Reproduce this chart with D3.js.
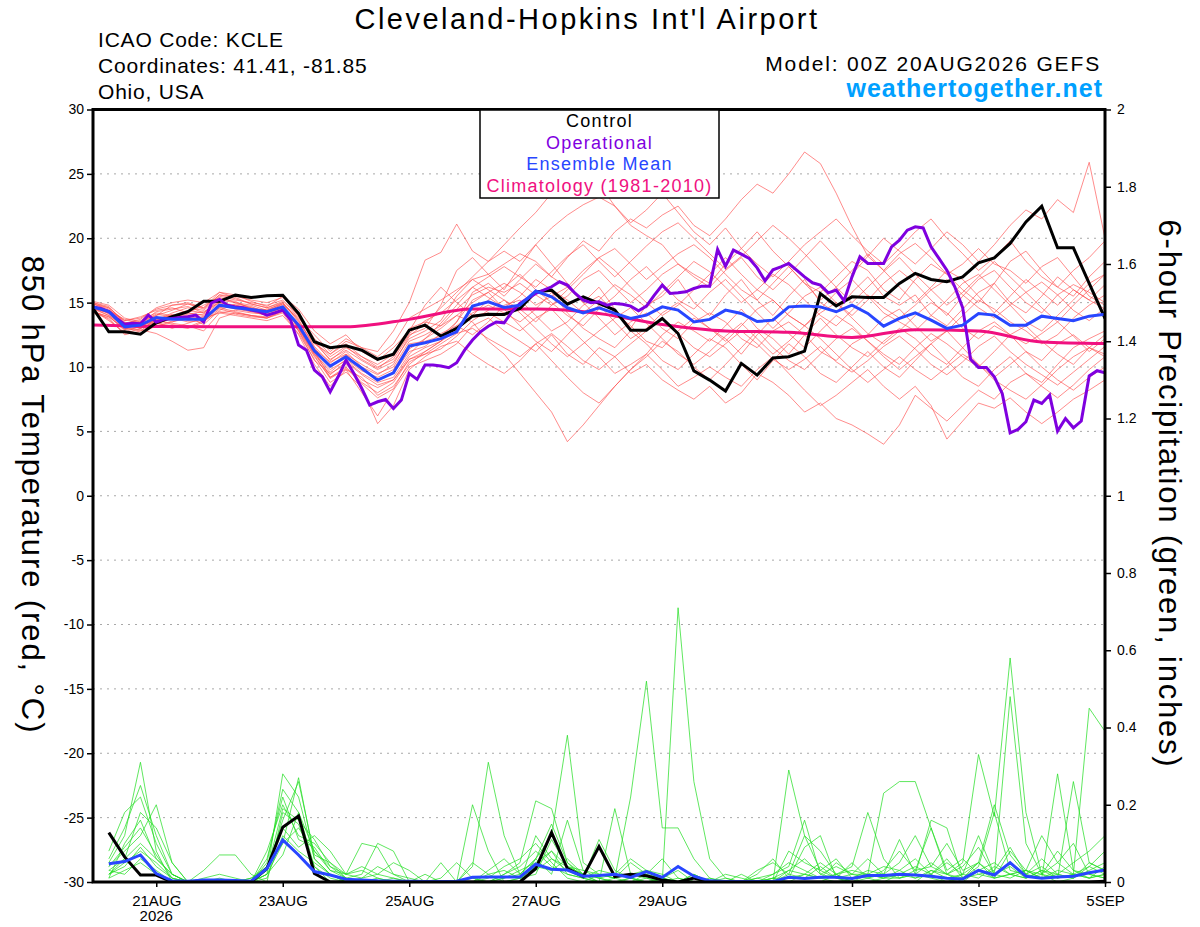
<!DOCTYPE html>
<html>
<head>
<meta charset="utf-8">
<script src="https://cdnjs.cloudflare.com/ajax/libs/d3/7.8.5/d3.min.js"></script>
<style>
  body { margin: 0; background: #fff; }
  text { font-family: "Liberation Sans", Arial, Helvetica, sans-serif; }
</style>
</head>
<body>
<div id="chart-area"></div>
<script>
// ---- data ----
var runStart = Date.UTC(2026, 7, 20, 0);   // 00Z 20AUG2026
var stepHours = 6;
var opStepHours = 3;

var tempTicks = [30, 25, 20, 15, 10, 5, 0, -5, -10, -15, -20, -25, -30];
var prcpTicks = [0, 0.2, 0.4, 0.6, 0.8, 1, 1.2, 1.4, 1.6, 1.8, 2];
var dateTicks = ["2026-08-21", "2026-08-23", "2026-08-25", "2026-08-27", "2026-08-29", "2026-09-01", "2026-09-03", "2026-09-05"];
var dateLabels = ["21AUG", "23AUG", "25AUG", "27AUG", "29AUG", "1SEP", "3SEP", "5SEP"];
var legendLabels = ["Control", "Operational", "Ensemble Mean", "Climatology (1981-2010)"];

// 850 hPa temperature, 6-hourly, 65 points
var controlTemp = [14.55, 12.73, 12.73, 12.55, 13.43, 13.9, 14.3, 15.1, 15.1, 15.58,
  15.4, 15.53, 15.58, 14.16, 11.96, 11.5, 11.65, 11.3, 10.6, 11.0,
  12.86, 13.25, 12.4, 13.0, 13.95, 14.1, 14.08, 14.55, 15.84, 15.97,
  14.88, 15.45, 14.94, 14.42, 12.86, 12.86, 13.77, 12.6, 9.7, 8.98,
  8.13, 10.28, 9.37, 10.7, 10.8, 11.23, 15.71, 14.75, 15.45, 15.4,
  15.4, 16.49, 17.27, 16.8, 16.62, 17.0, 18.09, 18.48, 19.6, 21.27,
  22.49, 19.26, 19.26, 16.49, 13.77];

var meanTemp = [14.67, 14.3, 13.12, 13.25, 13.85, 13.7, 13.7, 13.7, 14.8, 14.6,
  14.47, 14.3, 14.67, 13.25, 11.26, 10.07, 10.8, 9.9, 8.98, 9.55,
  11.62, 11.88, 12.2, 12.73, 14.73, 15.06, 14.62, 14.8, 15.9, 15.45,
  14.6, 14.2, 14.6, 14.16, 13.77, 14.03, 14.67, 14.42, 13.5, 13.7,
  14.42, 14.16, 13.53, 13.64, 14.67, 14.73, 14.67, 14.29, 14.8, 14.16,
  13.17, 13.77, 14.21, 13.64, 13.0, 13.25, 14.16, 14.03, 13.25, 13.25,
  13.95, 13.77, 13.59, 13.95, 14.1];

// operational run, 3-hourly, 129 points
var operationalTemp = [14.67, 14.55, 14.3, 13.77, 13.33, 13.4, 13.35, 14.03, 13.5, 13.7,
  13.77, 13.85, 13.9, 14.03, 13.5, 14.98, 15.25, 14.8, 14.67, 14.6,
  14.42, 14.3, 14.03, 14.2, 14.42, 13.64, 11.7, 11.31, 9.76, 9.24,
  8.07, 9.24, 10.53, 9.5, 8.33, 7.04, 7.3, 7.48, 6.78, 7.43,
  9.5, 9.04, 10.15, 10.15, 10.07, 9.94, 10.33, 11.31, 12.1, 12.73,
  13.17, 13.5, 13.43, 14.3, 14.94, 15.33, 15.71, 15.97, 16.23, 16.62,
  16.36, 15.71, 15.2, 15.0, 15.06, 14.8, 14.94, 14.88, 14.73, 14.37,
  14.73, 15.58, 16.36, 15.71, 15.76, 15.84, 16.1, 16.28, 16.28, 19.13,
  17.83, 19.08, 18.77, 18.43, 17.7, 16.7, 17.55, 17.78, 18.04, 17.52,
  17.0, 16.54, 16.36, 15.76, 15.97, 15.14, 17.0, 18.56, 18.04, 18.04,
  18.04, 19.33, 19.85, 20.63, 20.89, 20.8, 19.33, 18.43, 17.52, 16.23,
  14.6, 10.6, 9.97, 9.97, 9.24, 7.95, 4.89, 5.15, 5.75, 7.43,
  7.17, 7.82, 5.02, 6.0, 5.28, 5.8, 9.3, 9.71, 9.55];

// climatology, daily values
var climoTemp = [13.27, 13.15, 13.12, 13.12, 13.12, 13.7, 14.5, 14.5, 14.16, 13.3,
  12.8, 12.7, 12.3, 12.9, 12.8, 11.95, 11.83];

// ensemble members, 6-hourly, 65 points each
var memberTemp = [
  [15.0,14.6,13.5,13.0,13.6,14.2,14.6,14.4,15.5,15.2,15.0,14.8,15.2,
   14.0,12.0,10.5,11.5,10.8,10.0,10.6,12.5,13.0,14.8,17.5,18.5,17.2,
   16.0,17.8,19.5,18.0,16.5,15.0,16.2,14.5,13.0,14.8,15.5,16.8,15.0,
   14.0,15.6,16.8,15.2,14.0,15.5,16.8,15.0,14.2,15.8,17.0,15.5,14.8,
   15.6,14.0,13.2,14.5,15.8,16.5,15.0,14.2,15.5,17.0,16.0,15.2,16.4],
  [14.8,14.2,13.2,13.4,14.0,14.4,14.9,14.6,15.8,15.4,14.9,14.6,15.0,
   13.5,11.8,11.0,12.0,11.5,11.2,12.8,15.0,18.3,18.9,21.1,19.0,18.2,
   19.5,20.8,22.0,23.5,24.0,25.3,24.2,22.5,21.0,20.2,19.5,18.0,17.2,
   16.5,18.0,19.2,20.5,19.0,17.8,16.5,15.8,17.0,18.2,17.5,16.0,15.2,
   16.8,18.0,17.2,16.0,15.0,16.5,18.2,19.0,17.5,16.2,15.5,17.0,18.2],
  [14.5,14.0,12.8,12.6,13.2,13.5,13.8,13.9,14.6,14.8,14.4,14.0,14.3,
   12.8,10.5,9.5,10.2,9.0,8.4,9.0,10.8,11.5,12.0,13.5,15.8,16.5,
   15.5,16.8,18.0,17.0,18.5,19.8,19.0,20.5,21.5,20.8,21.8,22.5,21.0,
   20.2,21.5,23.0,24.2,23.5,25.0,26.7,25.8,23.5,20.9,18.6,17.5,18.8,
   19.6,18.5,17.2,18.0,19.2,18.0,17.5,16.5,17.8,18.5,17.0,15.5,14.8],
  [14.2,13.8,12.5,12.8,13.4,13.2,13.0,13.5,14.5,14.2,14.0,13.8,14.2,
   12.5,10.2,8.5,9.8,8.0,6.2,8.2,10.0,10.5,11.0,11.8,13.2,13.8,
   12.8,12.0,11.2,12.5,11.0,10.2,11.5,10.8,9.5,10.2,9.0,8.2,7.5,
   8.5,7.2,8.0,9.5,8.8,7.8,6.5,7.2,6.0,5.5,4.8,4.0,5.5,
   7.8,6.8,5.8,7.0,8.2,7.5,8.8,9.5,8.5,7.6,8.6,9.8,10.8],
  [14.6,14.3,13.0,12.8,13.8,14.0,14.2,14.0,15.0,14.8,14.6,14.2,14.6,
   13.0,11.0,9.8,10.5,9.5,8.8,9.2,11.0,12.2,13.0,14.0,13.5,12.0,
   11.0,9.5,8.0,6.5,4.2,5.5,7.0,8.5,9.8,11.0,12.5,13.5,12.8,
   12.0,13.2,14.5,13.0,12.2,11.0,12.5,13.8,12.5,11.5,10.8,12.0,13.0,
   12.2,11.0,10.2,11.5,12.8,13.5,12.5,11.8,12.6,13.5,12.4,11.2,12.2],
  [14.9,14.5,13.4,13.6,14.2,14.0,14.4,14.2,15.2,15.0,14.6,14.4,15.0,
   13.6,11.5,10.0,11.0,10.2,9.5,10.0,12.0,12.5,13.2,14.5,15.6,16.2,
   15.8,16.5,15.6,14.8,15.5,16.8,17.5,16.2,15.0,16.0,17.2,18.0,17.0,
   16.2,17.5,18.5,17.0,16.0,17.2,18.5,19.8,18.5,17.2,18.6,20.0,19.0,
   18.0,19.2,20.5,19.5,18.2,19.5,21.0,22.2,21.5,23.0,22.0,25.9,20.0],
  [15.1,14.8,13.8,13.5,14.0,14.8,15.0,14.6,15.6,15.5,15.2,15.0,15.4,
   14.2,12.2,11.0,11.8,10.8,10.2,11.0,13.0,13.5,13.2,14.0,15.0,15.8,
   16.5,15.8,14.8,15.5,16.2,15.0,13.8,12.5,13.5,14.2,13.0,12.2,13.5,
   14.2,13.5,12.2,11.5,12.8,13.5,12.5,11.2,10.5,11.8,12.5,13.8,14.5,
   13.2,12.0,12.8,14.0,15.2,14.5,13.5,12.8,11.8,12.5,13.8,14.8,15.6],
  [14.4,13.6,12.7,13.2,13.6,13.4,13.2,12.8,14.2,14.4,14.2,14.1,14.5,
   13.2,11.2,9.2,9.8,9.2,7.8,8.5,10.2,11.2,12.0,13.2,14.2,14.8,
   14.2,13.5,14.5,15.8,14.2,13.0,12.2,11.5,12.8,11.8,10.5,9.8,11.0,
   12.2,11.5,10.2,9.0,10.5,11.8,10.8,9.5,8.8,10.0,11.2,10.0,9.2,
   10.5,11.8,10.5,9.2,8.5,9.8,10.8,9.5,8.8,10.2,11.5,12.2,12.8],
  [14.7,14.4,13.6,13.9,14.4,14.6,14.2,14.8,15.4,15.0,14.8,14.4,14.8,
   13.8,12.5,11.2,12.2,11.5,10.8,11.8,13.8,14.5,15.2,16.0,16.8,17.2,
   18.0,18.8,18.2,17.0,16.2,17.5,18.5,19.2,18.0,16.8,17.8,18.8,19.5,
   18.5,17.2,16.0,15.2,16.5,17.8,16.5,15.2,16.2,17.5,18.8,17.5,16.2,
   15.0,16.2,17.5,16.8,15.5,14.2,15.5,16.8,15.8,14.8,16.0,15.2,14.5],
  [14.3,13.9,13.0,12.9,12.6,12.0,11.3,11.5,13.8,14.2,14.0,13.8,14.4,
   13.4,11.4,10.4,11.0,9.8,9.0,9.5,11.2,11.6,12.6,13.2,12.5,13.5,
   14.8,15.2,14.0,12.8,13.5,14.8,15.5,14.2,13.2,12.0,11.5,12.8,13.8,
   13.0,12.0,13.2,14.5,15.2,14.0,13.2,14.2,15.0,13.8,12.6,11.8,12.8,
   14.0,15.0,14.2,13.0,12.2,13.2,12.5,11.2,10.5,11.8,12.5,11.5,10.8],
  [15.0,14.7,13.4,13.7,14.6,15.0,15.2,15.0,15.8,15.6,15.1,14.7,15.5,
   14.5,12.8,11.8,12.5,11.2,10.5,11.5,12.8,14.8,16.2,15.0,14.0,15.2,
   16.2,17.2,16.0,15.0,14.0,13.2,14.5,15.5,16.8,17.8,16.5,15.2,14.5,
   15.8,16.8,15.5,14.2,13.0,14.2,15.5,16.2,15.0,14.0,15.2,16.5,17.5,
   16.5,15.2,14.0,15.5,16.8,17.5,16.2,15.0,14.2,15.6,16.4,15.8,15.0],
  [14.6,14.0,13.2,13.1,13.3,13.8,13.5,13.6,14.6,14.3,14.0,13.9,14.4,
   12.8,10.8,9.2,10.0,8.8,8.0,8.8,10.6,11.2,12.0,12.8,14.0,14.2,
   13.5,12.8,13.8,14.5,13.2,12.0,10.8,9.5,10.2,11.0,9.8,8.5,9.2,
   10.0,9.2,8.5,9.8,10.8,9.5,8.2,7.0,7.8,8.8,9.8,8.5,7.5,
   8.5,7.0,4.4,5.8,7.2,6.8,7.6,6.5,5.6,6.5,7.5,8.2,9.0],
  [14.8,14.1,12.9,13.5,14.1,13.9,14.0,14.1,15.1,14.6,14.3,14.5,14.9,
   13.9,11.9,10.6,11.3,10.5,9.8,10.4,12.2,12.8,13.6,15.5,16.8,16.0,
   15.2,14.5,13.5,14.8,16.0,17.2,18.5,17.5,16.2,15.0,14.0,14.8,16.0,
   17.2,18.5,17.2,16.0,15.2,14.0,13.2,14.5,15.8,16.8,15.5,14.2,13.5,
   12.8,14.0,15.2,16.5,17.2,16.0,14.8,13.5,12.8,14.0,15.2,16.5,17.2],
  [14.5,14.2,13.3,13.3,13.9,13.5,13.9,13.3,14.4,14.9,14.7,14.2,14.6,
   13.1,11.1,9.6,10.6,9.7,9.2,9.8,11.8,12.0,12.4,13.5,15.2,15.8,
   14.5,13.2,12.0,11.2,12.5,13.8,14.8,13.5,12.2,13.0,14.2,15.0,14.0,
   13.0,12.2,11.0,12.5,13.8,12.6,11.5,12.8,14.0,13.2,12.0,11.0,10.2,
   11.5,12.6,11.8,10.8,10.0,11.2,12.5,13.2,12.0,11.0,10.2,11.5,12.5],
  [14.9,14.4,13.7,13.4,14.3,14.5,14.7,14.2,15.3,15.1,14.5,14.3,14.9,
   13.7,11.6,10.3,11.2,10.0,9.4,10.2,12.4,13.4,14.6,15.8,17.0,18.2,
   19.0,18.2,19.5,20.8,21.8,22.6,23.2,22.5,21.2,22.2,23.5,22.0,20.5,
   19.5,20.8,19.2,18.0,17.0,18.2,19.5,20.5,21.5,20.2,19.0,18.0,19.2,
   20.5,21.5,20.0,18.8,17.5,18.5,19.8,18.2,17.0,16.2,17.5,18.5,19.8],
  [14.4,13.7,12.6,13.0,13.5,13.0,13.4,13.8,14.2,14.0,13.8,13.6,14.0,
   12.6,10.6,8.8,9.6,8.4,5.6,7.0,9.8,10.8,11.6,12.0,11.0,10.2,
   9.5,10.5,11.8,10.5,9.2,8.0,7.2,8.5,9.8,10.8,12.0,11.2,10.0,
   9.0,10.2,11.5,12.8,11.5,10.5,9.8,11.0,12.2,13.0,12.0,10.8,9.8,
   10.8,11.8,12.8,11.5,10.2,9.0,8.2,7.5,8.6,9.8,10.8,11.5,11.0],
  [14.6,14.2,13.1,13.2,13.7,13.9,14.1,14.3,15.0,14.7,14.5,14.0,14.5,
   13.3,11.3,10.0,10.9,9.9,9.0,9.6,11.4,12.2,13.4,14.8,16.2,17.0,
   17.8,17.0,16.2,17.4,18.6,19.5,18.2,17.0,18.2,19.4,20.5,21.2,20.0,
   18.8,17.6,18.6,19.8,21.0,20.0,18.8,17.5,16.2,15.0,16.2,17.4,18.5,
   17.2,16.0,14.8,15.8,17.0,18.2,17.0,15.8,14.6,13.5,14.8,16.0,17.2],
  [14.7,14.3,13.3,13.0,13.5,14.1,13.6,13.9,14.8,14.5,14.3,14.0,14.7,
   13.0,11.0,9.4,10.4,9.4,8.6,9.0,10.6,11.0,11.8,12.6,13.0,12.2,
   11.5,10.8,11.8,12.6,11.6,10.5,9.8,10.8,11.8,12.8,13.8,12.6,11.5,
   10.8,11.8,12.8,11.8,10.6,9.8,10.6,11.6,10.4,9.6,10.5,11.6,12.4,
   11.4,10.2,9.4,10.4,11.6,12.4,11.2,10.2,9.4,8.6,9.6,10.6,11.6],
  [14.9,14.6,13.6,13.8,14.5,14.8,14.9,14.5,15.6,15.3,14.9,14.6,15.1,
   14.0,12.0,10.8,11.6,10.6,9.9,10.8,12.6,13.6,14.2,15.2,16.2,15.4,
   14.6,15.5,16.8,16.0,15.2,14.2,15.2,16.4,15.6,14.6,15.8,17.0,18.2,
   17.4,16.2,15.0,16.0,17.2,16.4,15.2,14.0,13.2,14.4,15.6,14.6,13.8,
   14.8,16.0,16.8,15.6,14.6,13.8,14.8,15.8,16.6,15.6,14.4,13.6,14.6],
  [14.3,13.9,12.9,13.1,13.7,13.3,13.1,13.6,14.3,14.1,13.9,13.8,14.3,
   12.9,10.9,9.1,9.9,8.7,7.6,8.3,10.4,11.0,11.4,12.4,13.6,14.4,
   15.2,14.2,13.0,11.8,10.8,11.8,12.8,13.8,14.6,13.4,12.2,11.0,10.2,
   11.2,12.4,13.4,12.2,11.0,12.0,13.2,12.2,11.0,9.8,8.8,9.8,10.8,
   9.8,9.0,10.0,11.0,10.2,9.2,10.2,11.2,10.0,9.0,8.2,9.2,10.0]
];

// 6-hour precipitation (inches), periods ending 06Z 20AUG .. 00Z 5SEP, 64 points
var controlPrcp = [0.128, 0.065, 0.018, 0.018, 0, 0, 0, 0, 0, 0,
  0.035, 0.142, 0.171, 0.022, 0, 0, 0, 0, 0, 0,
  0, 0, 0, 0, 0, 0, 0, 0.035, 0.128, 0.035,
  0.014, 0.092, 0.014, 0.02, 0.016, 0.005, 0, 0.01, 0, 0,
  0, 0, 0, 0, 0, 0, 0, 0, 0, 0,
  0, 0, 0, 0, 0, 0, 0, 0, 0, 0,
  0, 0, 0, 0.002];

var meanPrcp = [0.047, 0.053, 0.07, 0.022, 0.003, 0.002, 0.005, 0.005, 0.004, 0.002,
  0.035, 0.109, 0.07, 0.027, 0.018, 0.007, 0.005, 0.003, 0.002, 0.002,
  0.001, 0.001, 0.002, 0.012, 0.013, 0.013, 0.013, 0.046, 0.033, 0.031,
  0.015, 0.017, 0.02, 0.012, 0.027, 0.012, 0.04, 0.015, 0.003, 0.001,
  0.001, 0.001, 0.001, 0.012, 0.009, 0.012, 0.012, 0.009, 0.017, 0.017,
  0.02, 0.018, 0.015, 0.01, 0.008, 0.03, 0.018, 0.05, 0.015, 0.01,
  0.013, 0.015, 0.024, 0.031];

var memberPrcp = [
  [.05,.12,.31,.08,0,0,0,0,0,0,.02,.10,.27,.06,.02,0,
   0,0,0,0,0,0,0,.04,.31,.12,.02,.06,.12,.38,.05,.02,
   .01,.22,.52,.14,.14,.06,.01,0,0,0,0,0,0,0,.02,0,
   0,0,0,0,.03,.02,.05,.33,.17,.58,.18,.02,0,.01,.03,.05],
  [.08,.18,.22,.10,.02,0,0,.01,0,0,.05,.24,.18,.08,.03,.01,
   .02,.10,.08,0,0,0,0,0,0,.02,.05,.21,.19,.05,.02,0,
   .19,.02,.01,0,.71,.26,.06,.01,0,0,.01,.03,.02,.01,.05,.02,
   .02,.04,.03,.01,.02,0,.01,.05,.02,.48,.10,.02,.01,.02,.45,.39],
  [.02,.06,.18,.14,.05,0,0,0,0,0,.08,.20,.12,.10,.05,.02,
   .10,.09,.02,0,0,.05,0,.20,.08,0,0,.06,.15,.05,.01,.11,
   .03,.01,0,0,0,.02,0,.01,0,0,0,.29,.12,.03,.01,0,
   .02,.23,.26,.26,.14,.02,0,.03,.01,.02,.03,.01,.28,.03,.02,.01],
  [.01,.10,.16,.06,.02,0,.03,.07,.07,.02,0,.18,.15,.04,0,0,
   .01,.04,.02,.01,0,0,0,0,.02,.03,.01,.04,.08,.04,.03,.02,
   .01,.02,.03,.01,0,0,.01,0,0,.03,.05,.02,.12,.08,.02,.04,
   .18,.06,.01,.03,.04,.10,.03,.05,.20,.07,.02,.04,.01,.26,.05,.03],
  [.04,.08,.12,.20,.05,0,0,0,0,0,.02,.28,.22,.06,.02,0,
   0,.01,0,0,0,0,0,.05,.02,0,0,.12,.06,.04,.02,.01,
   0,0,.02,.06,.01,0,0,0,0,.02,.06,.01,.09,.12,.01,.05,
   .01,.02,.05,.12,.04,.02,.04,.09,.02,.01,.03,.12,.05,.02,.01,.04],
  [.02,.04,.09,.04,.01,0,0,0,0,.01,.03,.16,.26,.07,.05,.01,
   0,0,0,0,0,0,0,0,.03,.06,.02,.06,.02,.16,.03,.01,
   .02,.06,.03,0,0,0,0,0,.02,0,0,.08,.05,.03,.06,.01,
   .03,.02,.11,.02,.16,.14,.01,.04,.18,.03,.02,.06,.02,.01,.04,.08],
  [.06,.14,.25,.12,.02,0,0,0,0,0,.04,.14,.09,.12,.08,.02,
   .03,.01,0,0,0,0,0,0,.01,.04,.06,.10,.05,.01,0,.02,
   .01,.05,.02,.01,0,.02,0,0,0,.01,.02,.04,.16,.02,.04,.02,
   .01,.03,.08,.03,.14,.03,.06,.02,.01,.08,.03,.02,.05,.10,.02,.01],
  [.03,.02,.06,.03,0,0,.01,.02,.01,0,.06,.22,.11,.09,.03,.02,
   .04,.02,.01,0,0,.01,.05,.01,0,.01,.03,.05,.08,.02,.01,.03,
   .02,.01,0,.01,.03,0,0,.02,.01,0,.02,.05,.03,.01,.02,.03,
   .02,.01,.03,.06,.02,.05,.02,.12,.02,.04,.01,.03,.02,.05,.08,.12],
  [.01,.03,.05,.02,0,0,0,0,0,0,.01,.12,.08,.05,.02,0,
   0,0,0,0,.02,0,0,0,0,.01,.02,.03,.06,.03,.01,0,
   0,.01,0,0,.01,0,0,0,0,0,0,.02,.01,.04,.01,0,
   0,.01,.02,.01,.03,.01,.02,.05,.01,.02,.03,.01,.02,.01,.05,.03],
  [.02,.05,.08,.05,.01,0,0,0,0,0,.02,.07,.18,.04,.01,0,
   0,0,0,0,0,0,0,.01,0,0,.01,.02,.11,.04,.02,.01,
   0,0,.01,0,0,0,0,0,0,0,.01,0,.02,.01,0,.01,
   .02,.01,.01,.02,.01,0,.02,.01,.04,.02,.01,.03,.01,.02,.01,.02],
  [.03,.06,.10,.06,.02,0,0,0,0,.01,.04,.10,.14,.08,.04,.02,
   .01,.02,.05,.03,0,0,0,0,0,.02,.04,.08,.04,.02,.01,0,
   0,.01,.03,.02,0,0,0,0,0,.01,0,.03,.06,.02,.01,.02,
   .06,.02,.01,.02,.05,.02,.01,.03,.05,.02,.01,.02,.08,.03,.01,.02],
  [.04,.09,.14,.07,.01,0,0,0,0,0,.03,.19,.16,.11,.04,.01,
   0,0,.01,0,0,0,0,0,0,0,.01,.04,.03,.06,.02,0,
   .01,0,0,.01,0,0,0,0,0,0,.01,.01,.02,.05,.02,0,
   .01,0,.02,.04,.02,.06,.01,.02,.03,.09,.02,.01,.03,.02,.04,.02]
];

// ---- layout ----
var width = 1200;
var height = 927;
var plot = {left: 93, right: 1105, top: 109.5, bottom: 882};
var fontFamily = '"Liberation Sans", Arial, Helvetica, sans-serif';

function timeAt(i, hours) { return new Date(runStart + i * hours * 3600000); }

var svg = d3.select("#chart-area").append("svg")
  .attr("width", width)
  .attr("height", height);

var x = d3.scaleUtc()
  .domain([timeAt(0, stepHours), timeAt(64, stepHours)])
  .range([plot.left, plot.right]);
var yTemp = d3.scaleLinear().domain([-30, 30]).range([plot.bottom, plot.top]);
var yPrcp = d3.scaleLinear().domain([0, 2]).range([plot.bottom, plot.top]);

svg.append("clipPath").attr("id", "plot-clip")
  .append("rect")
  .attr("x", plot.left).attr("y", plot.top)
  .attr("width", plot.right - plot.left).attr("height", plot.bottom - plot.top);

// dotted grid on the temperature ticks
svg.append("g")
  .selectAll("line")
  .data(tempTicks.filter((d) => d > -30 && d < 30))
  .enter().append("line")
  .attr("x1", plot.left).attr("x2", plot.right)
  .attr("y1", (d) => yTemp(d)).attr("y2", (d) => yTemp(d))
  .attr("stroke", "#a8a8a8")
  .attr("stroke-width", 1)
  .attr("stroke-dasharray", "2,5");

var lines = svg.append("g").attr("clip-path", "url(#plot-clip)");

var tempLine = (hours) => d3.line()
  .x((d, i) => x(timeAt(i, hours)))
  .y((d) => yTemp(d));
var prcpLine = d3.line()
  .x((d, i) => x(timeAt(i + 1, stepHours)))
  .y((d) => yPrcp(d));

// members first
lines.selectAll(".member-temp")
  .data(memberTemp)
  .enter().append("path")
  .attr("class", "member-temp")
  .attr("d", tempLine(stepHours))
  .attr("fill", "none")
  .attr("stroke", "#ff4a4a")
  .attr("stroke-opacity", 0.8)
  .attr("stroke-width", 0.8);

lines.selectAll(".member-prcp")
  .data(memberPrcp)
  .enter().append("path")
  .attr("class", "member-prcp")
  .attr("d", prcpLine)
  .attr("fill", "none")
  .attr("stroke", "#22dd22")
  .attr("stroke-opacity", 0.9)
  .attr("stroke-width", 0.8);

// climatology (daily)
lines.append("path")
  .datum(climoTemp)
  .attr("d", tempLine(24).curve(d3.curveMonotoneX))
  .attr("fill", "none")
  .attr("stroke", "#f0107f")
  .attr("stroke-width", 3);

// precip control + mean
lines.append("path")
  .datum(controlPrcp)
  .attr("d", prcpLine)
  .attr("fill", "none")
  .attr("stroke", "#000")
  .attr("stroke-width", 3);
lines.append("path")
  .datum(meanPrcp)
  .attr("d", prcpLine)
  .attr("fill", "none")
  .attr("stroke", "#2846ff")
  .attr("stroke-width", 3);

// temperature control, operational, mean
lines.append("path")
  .datum(controlTemp)
  .attr("d", tempLine(stepHours))
  .attr("fill", "none")
  .attr("stroke", "#000")
  .attr("stroke-width", 3);
lines.append("path")
  .datum(operationalTemp)
  .attr("d", tempLine(opStepHours))
  .attr("fill", "none")
  .attr("stroke", "#7f00df")
  .attr("stroke-width", 3);
lines.append("path")
  .datum(meanTemp)
  .attr("d", tempLine(stepHours))
  .attr("fill", "none")
  .attr("stroke", "#2846ff")
  .attr("stroke-width", 3);

// frame
svg.append("rect")
  .attr("x", plot.left).attr("y", plot.top)
  .attr("width", plot.right - plot.left).attr("height", plot.bottom - plot.top)
  .attr("fill", "none")
  .attr("stroke", "#000")
  .attr("stroke-width", 3);

// axes
function styleAxis(g, size) {
  g.select(".domain").remove();
  g.selectAll("line").attr("stroke", "#000").attr("stroke-width", 1.5);
  g.selectAll("text").attr("font-family", fontFamily).attr("font-size", size).attr("fill", "#000");
}

var leftAxis = d3.axisLeft(yTemp).tickValues(tempTicks).tickSize(6).tickPadding(3)
  .tickFormat((d) => String(d));
svg.append("g")
  .attr("transform", "translate(" + plot.left + ",0)")
  .call(leftAxis)
  .call((g) => styleAxis(g, 14));

var rightAxis = d3.axisRight(yPrcp).tickValues(prcpTicks).tickSize(6).tickPadding(6)
  .tickFormat((d) => String(d));
svg.append("g")
  .attr("transform", "translate(" + plot.right + ",0)")
  .call(rightAxis)
  .call((g) => styleAxis(g, 14));

var bottomAxis = d3.axisBottom(x)
  .tickValues(dateTicks.map((d) => new Date(d + "T00:00:00Z")))
  .tickSize(5).tickPadding(8)
  .tickFormat((d, i) => dateLabels[i]);
var xAxisG = svg.append("g")
  .attr("transform", "translate(0," + plot.bottom + ")")
  .call(bottomAxis)
  .call((g) => styleAxis(g, 15));
xAxisG.append("text")
  .attr("x", x(new Date(dateTicks[0] + "T00:00:00Z")))
  .attr("y", 39)
  .attr("text-anchor", "middle")
  .attr("font-family", fontFamily)
  .attr("font-size", 15)
  .attr("fill", "#000")
  .text("2026");

// axis titles
svg.append("text")
  .attr("transform", "translate(22,495) rotate(90)")
  .attr("text-anchor", "middle")
  .attr("font-size", 31)
  .attr("letter-spacing", 1.9)
  .text("850 hPa Temperature (red, \u00B0C)");
svg.append("text")
  .attr("transform", "translate(1159,494) rotate(90)")
  .attr("text-anchor", "middle")
  .attr("font-size", 31)
  .attr("letter-spacing", 1.8)
  .text("6-hour Precipitation (green, inches)");

// header
svg.append("text")
  .attr("x", 587).attr("y", 29)
  .attr("text-anchor", "middle")
  .attr("font-size", 29)
  .attr("letter-spacing", 2.5)
  .text("Cleveland-Hopkins Int'l Airport");

var infoLines = ["ICAO Code: KCLE", "Coordinates: 41.41, -81.85", "Ohio, USA"];
svg.append("g").selectAll("text")
  .data(infoLines)
  .enter().append("text")
  .attr("x", 98)
  .attr("y", (d, i) => 47 + i * 26)
  .attr("font-size", 21)
  .attr("letter-spacing", 0.8)
  .text((d) => d);

svg.append("text")
  .attr("x", 1101).attr("y", 71)
  .attr("text-anchor", "end")
  .attr("font-size", 21)
  .attr("letter-spacing", 1.85)
  .text("Model: 00Z 20AUG2026 GEFS");
svg.append("text")
  .attr("x", 1103).attr("y", 97)
  .attr("text-anchor", "end")
  .attr("font-size", 25)
  .attr("font-weight", "bold")
  .attr("letter-spacing", 1.0)
  .attr("fill", "#00a0ff")
  .text("weathertogether.net");

// legend
var legendColors = ["#000", "#7f00df", "#2846ff", "#f0107f"];
var legend = svg.append("g");
legend.append("rect")
  .attr("x", 480).attr("y", 110)
  .attr("width", 239).attr("height", 88)
  .attr("fill", "#fff")
  .attr("stroke", "#000")
  .attr("stroke-width", 1.5);
legend.selectAll("text")
  .data(legendLabels)
  .enter().append("text")
  .attr("x", 599.5)
  .attr("y", (d, i) => 127 + i * 21.5)
  .attr("text-anchor", "middle")
  .attr("font-size", 18)
  .attr("letter-spacing", 1.25)
  .attr("fill", (d, i) => legendColors[i])
  .text((d) => d);
</script>
</body>
</html>
